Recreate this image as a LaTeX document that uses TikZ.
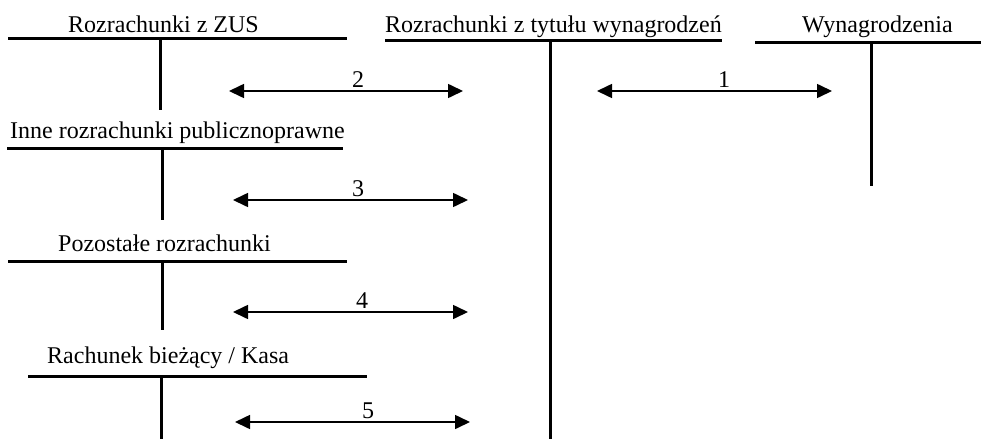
\documentclass[tikz,border=0pt]{standalone}
\usepackage{fontspec}
\setmainfont{Liberation Serif}
\usetikzlibrary{arrows.meta}
\begin{document}
\begin{tikzpicture}[x=1pt,y=-1pt,
  acct/.style={line width=3pt},
  title/.style={inner sep=0pt,anchor=base west,font=\fontsize{24}{28}\selectfont},
  lab/.style={inner sep=0pt,anchor=base,font=\fontsize{24}{28}\selectfont},
  flow/.style={line width=1.6pt,{Triangle[length=15pt,width=14pt]}-{Triangle[length=15pt,width=14pt]}}]
\useasboundingbox (0,0) rectangle (981,439);
% titles
\node[title] (tzus) at (68,32) {Rozrachunki z ZUS};
\node[title] (twyn) at (385,32) {Rozrachunki z tytułu wynagrodzeń};
\node[title] (tw) at (802,32) {Wynagrodzenia};
\node[title] (tinne) at (10,138) {Inne rozrachunki publicznoprawne};
\node[title] (tpoz) at (58,251) {Pozostałe rozrachunki};
\node[title] (trach) at (47,363) {Rachunek bieżący / Kasa};
% T-accounts
\draw[acct] (8,38) -- (347,38);   \draw[acct] (160,38) -- (160,110);
\draw[acct] (385,40) -- (722,40); \draw[acct] (550,40) -- (550,439);
\draw[acct] (755,42) -- (981,42); \draw[acct] (871,42) -- (871,186);
\draw[acct] (7,148) -- (343,148); \draw[acct] (162,148) -- (162,220);
\draw[acct] (8,261) -- (347,261); \draw[acct] (162,261) -- (162,330);
\draw[acct] (28,376) -- (367,376); \draw[acct] (161,376) -- (161,439);
% arrow end points
\coordinate (a2l) at (229,91);  \coordinate (a2r) at (463,91);
\coordinate (a1l) at (597,91);  \coordinate (a1r) at (832,91);
\coordinate (a3l) at (233,200); \coordinate (a3r) at (468,200);
\coordinate (a4l) at (233,312); \coordinate (a4r) at (468,312);
\coordinate (a5l) at (235,422); \coordinate (a5r) at (470,422);
\draw[flow] (a2l) -- (a2r);
\draw[flow] (a1l) -- (a1r);
\draw[flow] (a3l) -- (a3r);
\draw[flow] (a4l) -- (a4r);
\draw[flow] (a5l) -- (a5r);
% labels
\node[lab] (l2) at (358,87) {2};
\node[lab] (l1) at (724,87) {1};
\node[lab] (l3) at (358,196) {3};
\node[lab] (l4) at (362,308) {4};
\node[lab] (l5) at (368,418) {5};
\end{tikzpicture}
\end{document}
